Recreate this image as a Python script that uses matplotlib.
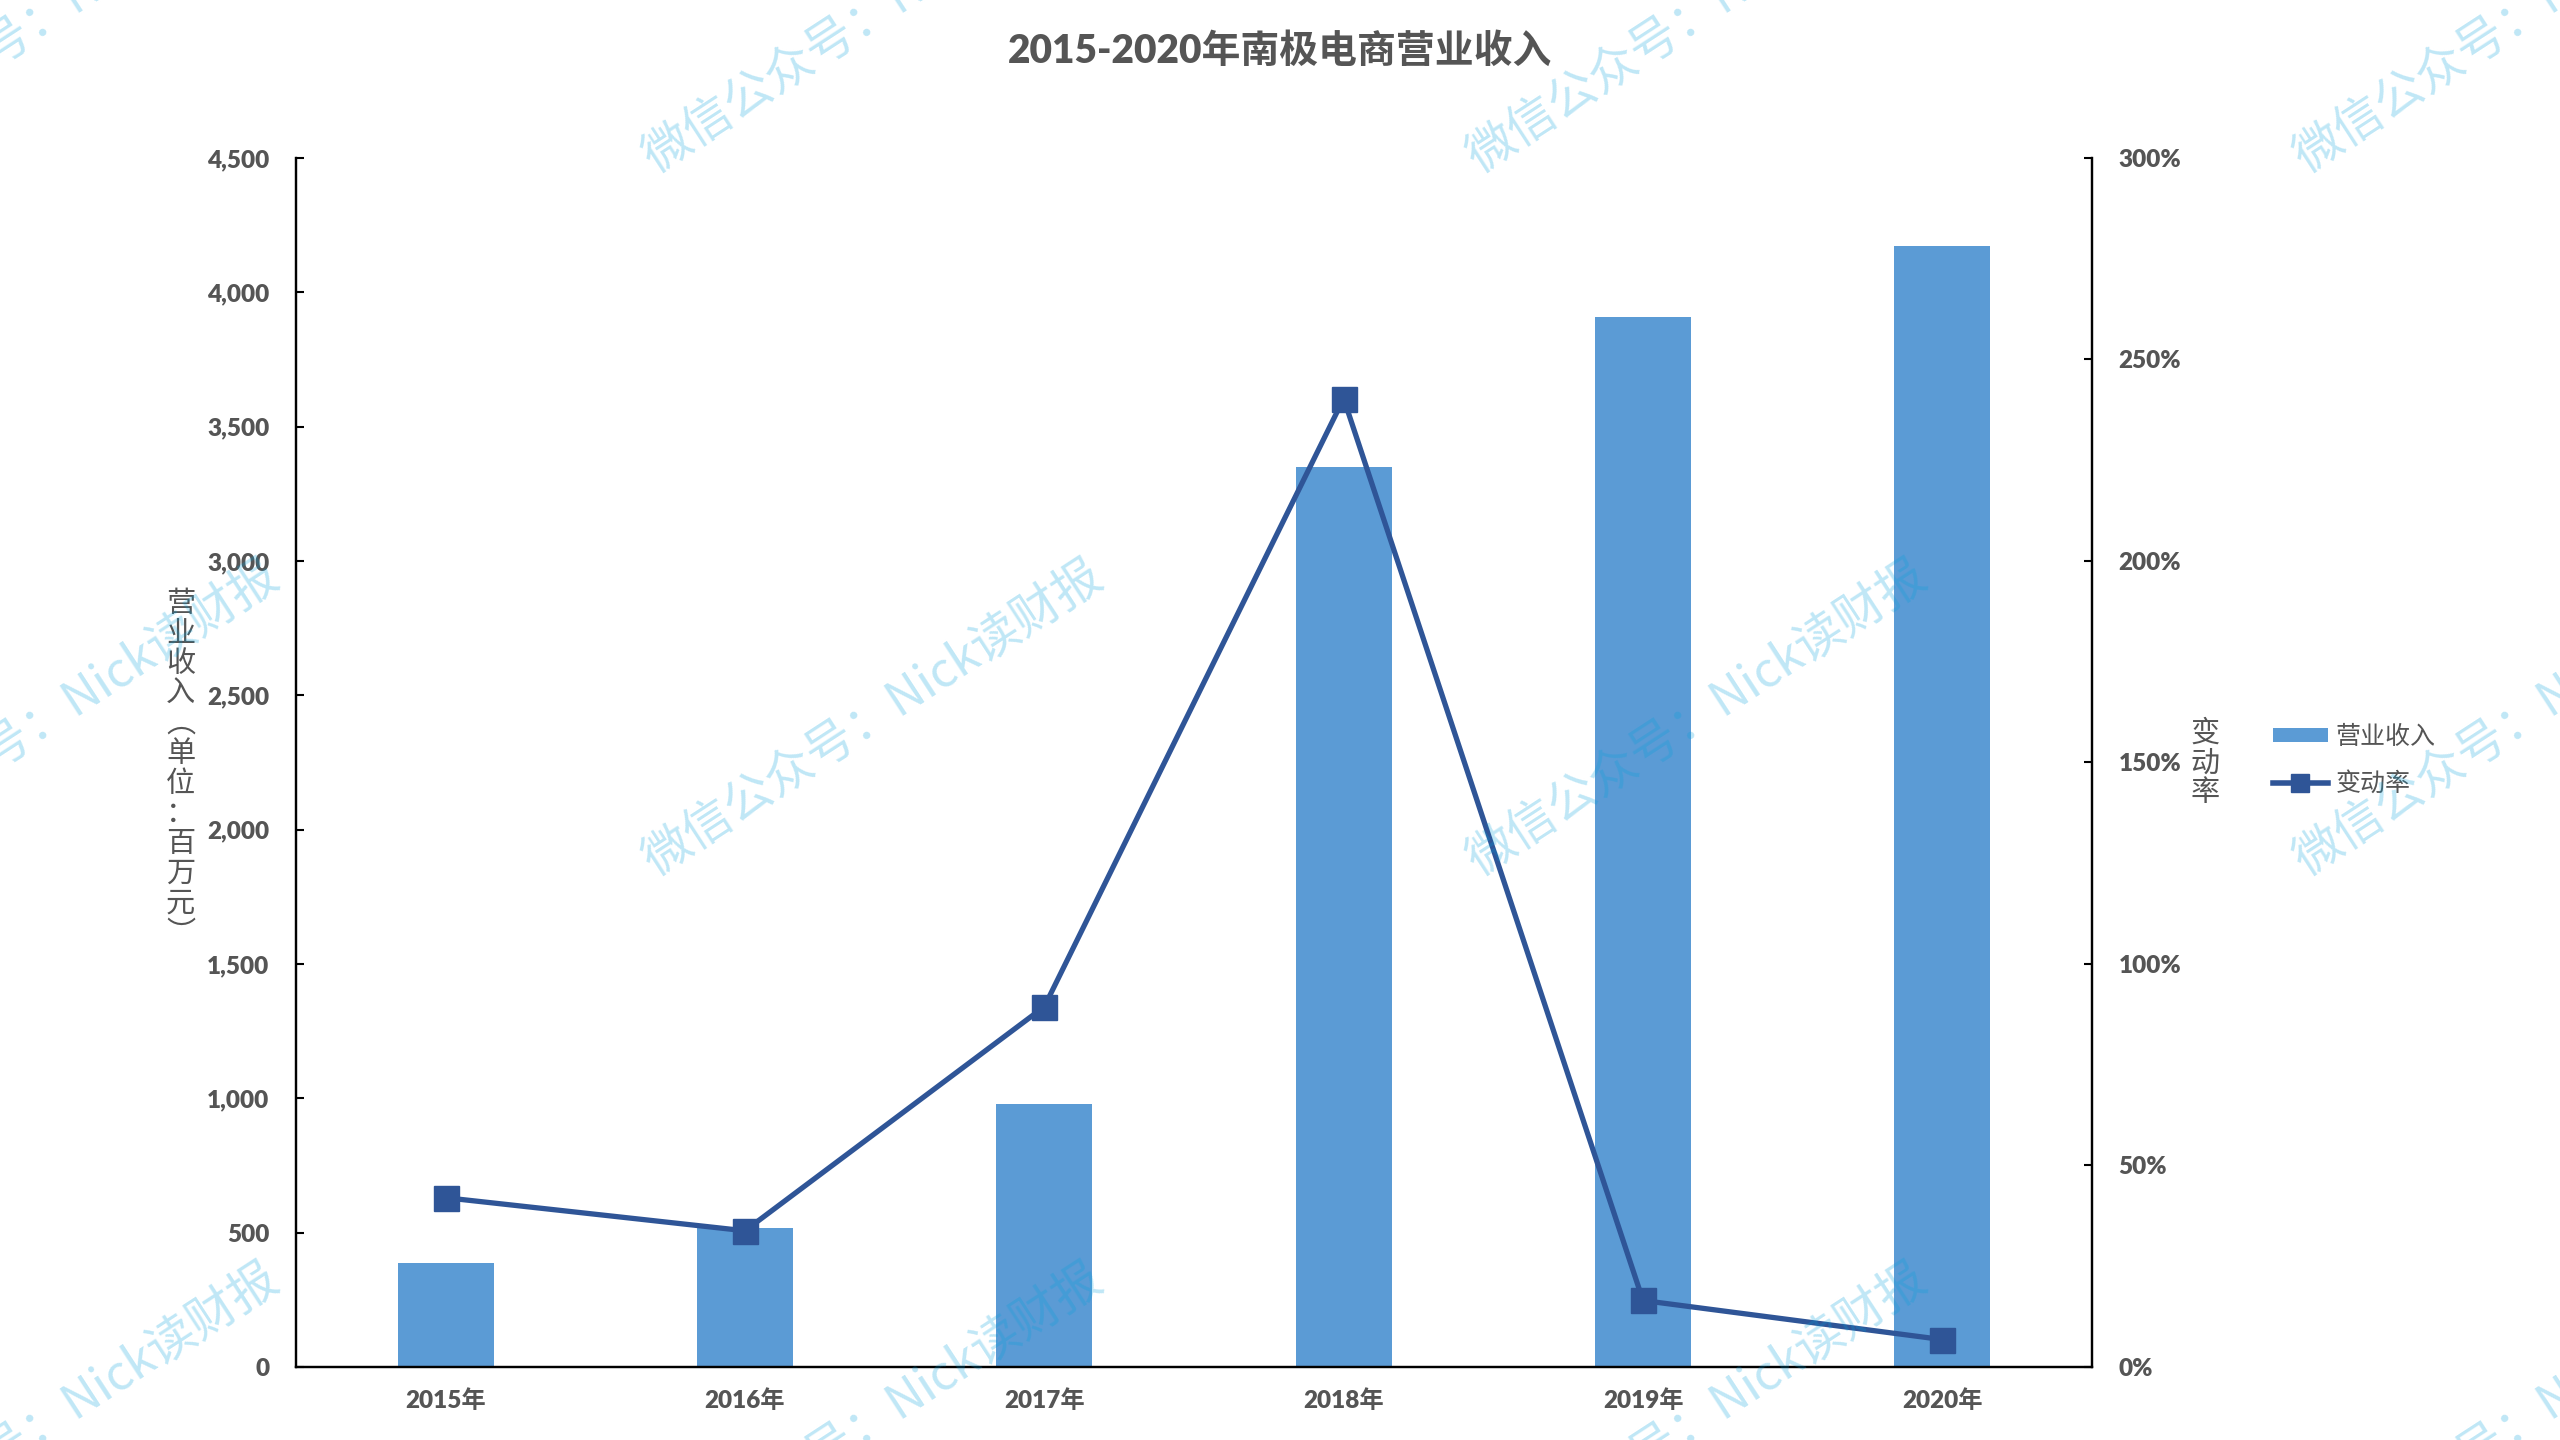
import matplotlib
matplotlib.use("Agg")
import matplotlib.pyplot as plt
from matplotlib.ticker import FuncFormatter, MultipleLocator
from matplotlib.lines import Line2D
from matplotlib.patches import Patch

# ---- data ----
years = ["2015年", "2016年", "2017年", "2018年", "2019年", "2020年"]
revenue = [386, 517, 980, 3351, 3908, 4173]          # 百万元
change_rate = [42.0, 33.8, 89.4, 240.3, 16.5, 6.8]   # %

title = "2015-2020年南极电商营业收入"
ylabel_left = "营业收入︵单位：百万元︶"
ylabel_right = "变动率"
legend_labels = ["营业收入", "变动率"]
watermark = "微信公众号：Nick读财报"

FAM = ["Lato", "Noto Sans CJK SC", "DejaVu Sans"]
CJK = ["Noto Sans CJK SC", "DejaVu Sans"]
plt.rcParams["font.family"] = FAM
plt.rcParams["font.weight"] = "bold"
TXT = "#555555"
BAR_C = "#5B9BD5"
LINE_C = "#2F5597"

fig = plt.figure(figsize=(25.6, 14.4), dpi=100)
ax = fig.add_axes([0.1156, 0.0507, 0.8172 - 0.1156, 0.8903 - 0.0507])
ax2 = ax.twinx()

x = list(range(len(years)))
ax.bar(x, revenue, width=0.32, color=BAR_C, zorder=2)
ax.set_xlim(-0.5, len(years) - 0.5)
ax.set_ylim(0, 4500)
ax.yaxis.set_major_locator(MultipleLocator(500))
ax.yaxis.set_major_formatter(FuncFormatter(lambda v, p: f"{int(v):,}"))
ax.set_xticks(x)
ax.set_xticklabels(years)

ax2.plot(x, change_rate, color=LINE_C, lw=3.8, marker="s", ms=18,
         markerfacecolor=LINE_C, markeredgecolor=LINE_C, zorder=3)
ax2.set_ylim(0, 300)
ax2.yaxis.set_major_locator(MultipleLocator(50))
ax2.yaxis.set_major_formatter(FuncFormatter(lambda v, p: f"{int(v)}%"))

for a in (ax, ax2):
    a.spines["top"].set_visible(False)
    for s in ("left", "right", "bottom"):
        a.spines[s].set_linewidth(1.6)
        a.spines[s].set_color("black")
    a.set_facecolor("none")

ax.tick_params(axis="y", direction="in", length=6, width=1.5, pad=19,
               labelsize=17.5, labelcolor=TXT)
ax.tick_params(axis="x", length=0, pad=16, labelsize=17.5, labelcolor=TXT)
ax2.tick_params(axis="y", direction="in", length=6, width=1.5, pad=19,
                labelsize=17.5, labelcolor=TXT)

fig.canvas.draw()
for lab in ax.get_yticklabels() + ax.get_xticklabels() + ax2.get_yticklabels():
    lab.set_fontweight("heavy")

fig.text(0.5, 0.9646, title, ha="center", va="center", fontsize=28,
         fontweight="heavy", color=TXT, family=FAM)

fig.text(0.0705, 0.466, "\n".join(ylabel_left), ha="center", va="center",
         fontsize=21, color=TXT, family=CJK, fontweight="medium",
         linespacing=1.0)
fig.text(0.8615, 0.470, "\n".join(ylabel_right), ha="center", va="center",
         fontsize=21, color=TXT, family=CJK, fontweight="medium",
         linespacing=1.0)

handles = [Patch(facecolor=BAR_C, edgecolor="none"),
           Line2D([0], [0], color=LINE_C, lw=4, marker="s", ms=13)]
fig.legend(handles, legend_labels, loc="center left",
           bbox_to_anchor=(0.879, 0.472), frameon=False,
           prop={"family": CJK, "size": 18, "weight": "medium"},
           labelcolor=TXT, handlelength=2.2, handleheight=0.5,
           handletextpad=0.3, labelspacing=0.85)

# watermark tiles
wm_x = [0.019, 0.341, 0.663, 0.986]
wm_y = [0.989, 0.501, 0.013]
for wx in wm_x:
    for wy in wm_y:
        fig.text(wx, wy, watermark, ha="center", va="center", rotation=33,
                 rotation_mode="anchor", fontsize=35, color="#00a0dc",
                 alpha=0.25, family=CJK, fontweight="light", zorder=10)

fig.savefig("out.png", dpi=100, facecolor="white")
